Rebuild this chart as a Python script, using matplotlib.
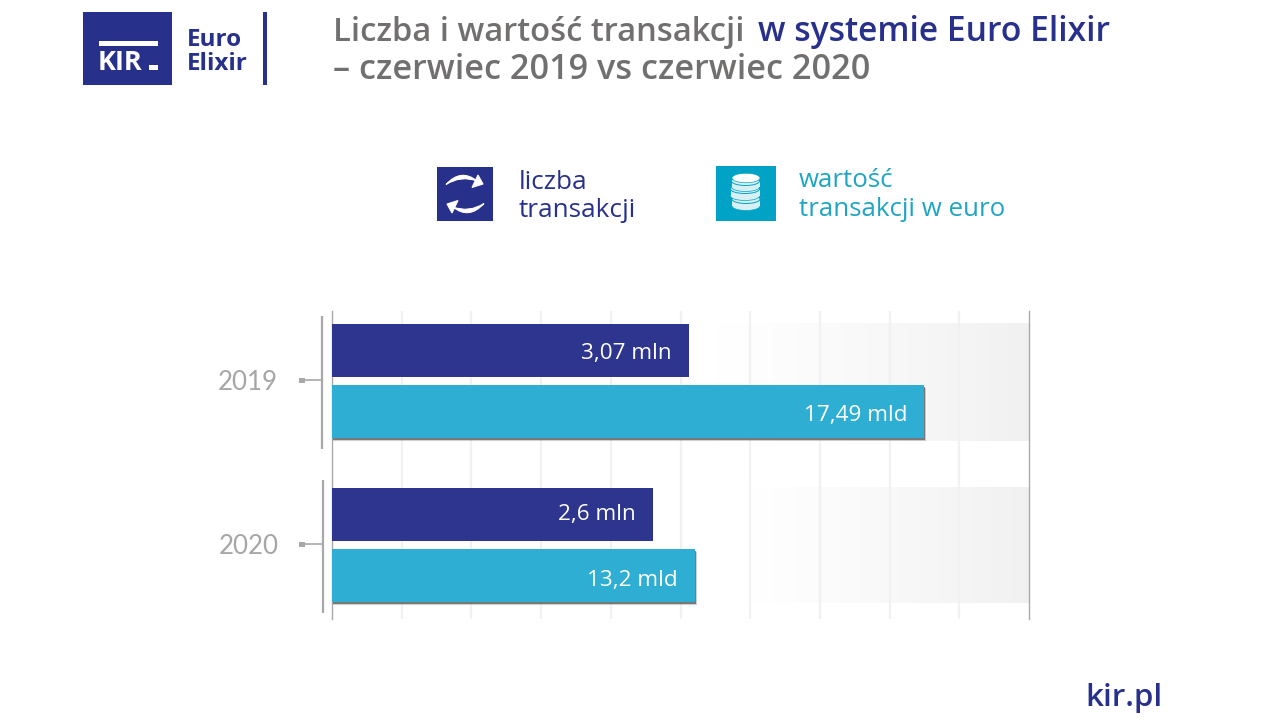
import numpy as np
import matplotlib
matplotlib.use("Agg")
import matplotlib.pyplot as plt
from matplotlib.patches import Rectangle, Ellipse, PathPatch, Polygon
from matplotlib.path import Path
from matplotlib.colors import LinearSegmentedColormap
import matplotlib.patheffects as pe

years = ["2019", "2020"]
count_labels = ["3,07 mln", "2,6 mln"]
value_labels = ["17,49 mld", "13,2 mld"]
# bar lengths as read on the chart's ten-division unlabelled axis
count_lengths = [5.12, 4.61]
value_lengths = [8.50, 5.21]
series_names = ["liczba\ntransakcji", "wartość\ntransakcji w euro"]

NAVY = "#2d358f"
TEAL = "#2eaed2"
LOGO = "#27308a"
ICON_TEAL = "#00a3c6"
GREY = "#a8a8a8"
TITLE_GREY = "#726f6f"
FONT = "Open Sans"

W, H = 1280, 720
fig = plt.figure(figsize=(12.8, 7.2), dpi=100, facecolor="white")

# ---------- chart ----------
L, R, T, B = 332, 1029, 311, 619
ax = fig.add_axes([L / W, 1 - B / H, (R - L) / W, (B - T) / H])
group_px = 164
ylim = ((B - 381) / group_px, (T - 381) / group_px)
ax.set_xticks([])
ax.set_yticks([])
for s in ("top", "bottom"):
    ax.spines[s].set_visible(False)
for s in ("left", "right"):
    ax.spines[s].set_color("#a9a9a9")
    ax.spines[s].set_linewidth(1)
ax.patch.set_alpha(0)

for x in range(1, 10):
    ax.axvline(x, color="#f1f1f1", lw=1.6, zorder=1)

cmap = LinearSegmentedColormap.from_list("g", ["#ffffff", "#f1f1f1"])
grad = (np.linspace(0, 1, 256) ** 1.15).reshape(1, -1)
pos = np.arange(len(years), dtype=float)
off = 30.5 / group_px
bar_h = 53 / group_px
for i, (start, top, bot) in enumerate([(5.5, -0.353, 0.366), (5.9, -0.353, 0.354)]):
    ax.imshow(grad, extent=(start, 10, pos[i] + bot, pos[i] + top), cmap=cmap,
              aspect="auto", zorder=0.5, vmin=0, vmax=1)
ax.set_xlim(0, 10)
ax.set_ylim(*ylim)

ax.barh(pos - off, count_lengths, height=bar_h, color=NAVY, zorder=3)
teal = ax.barh(pos + off, value_lengths, height=bar_h, color=TEAL, zorder=3)
for b in teal:
    b.set_path_effects([
        pe.SimplePatchShadow(offset=(1.0, -2.3), shadow_rgbFace="#777777", alpha=0.35),
        pe.SimplePatchShadow(offset=(0.5, -1.4), shadow_rgbFace="#555555", alpha=0.7),
        pe.Normal()])

count_dy = [-6.3, -4.0]
value_dy = [-6.6, -7.6]
for i in range(len(years)):
    ax.annotate(count_labels[i], (count_lengths[i], pos[i] - off), xytext=(-12.5, count_dy[i]),
                textcoords="offset points", ha="right", va="baseline", color="white",
                fontsize=16.2, family=FONT, zorder=4)
    ax.annotate(value_labels[i], (value_lengths[i], pos[i] + off), xytext=(-12.5, value_dy[i]),
                textcoords="offset points", ha="right", va="baseline", color="white",
                fontsize=16.2, family=FONT, zorder=4)

# ---------- decorations in pixel coordinates ----------
ov = fig.add_axes([0, 0, 1, 1], zorder=5)
ov.set_xlim(0, W)
ov.set_ylim(H, 0)
ov.axis("off")
ov.patch.set_alpha(0)

# brackets and year labels
for label, x, y0, y1, yc in [(years[0], 322, 316, 449, 380), (years[1], 323, 480, 613, 544)]:
    ov.plot([x, x], [y0, y1], color=GREY, lw=1.6, solid_capstyle="butt")
    ov.plot([302, x], [yc, yc], color=GREY, lw=1.2)
    ov.add_patch(Rectangle((299, yc - 2.5), 5.5, 5.5, color=GREY, lw=0))
    ov.text(x - 74.5, yc + 2, label, color="#a6a6a6", fontsize=18.6, family="Lato",
            ha="center", va="center")

# logo
ov.add_patch(Rectangle((83, 11.5), 89, 73.5, color=LOGO, lw=0))
ov.add_patch(Rectangle((98.5, 41), 59, 4.5, color="white", lw=0))
ov.add_patch(Rectangle((148.5, 65), 9, 4.5, color="white", lw=0))
ov.text(98, 70, "KIR", color="white", fontsize=19.5, weight="bold", family=FONT,
        ha="left", va="baseline")
ov.text(187, 45.5, "Euro", color=LOGO, fontsize=17.5, weight="bold", family=FONT,
        ha="left", va="baseline")
ov.text(187, 69.5, "Elixir", color=LOGO, fontsize=17.5, weight="bold", family=FONT,
        ha="left", va="baseline")
ov.add_patch(Rectangle((262.5, 11.5), 4, 73.5, color=LOGO, lw=0))

# title
ov.text(333, 41, "Liczba i wartość transakcji", color=TITLE_GREY, fontsize=23.6,
        weight="semibold", family=FONT, ha="left", va="baseline")
ov.text(758, 41, "w systemie Euro Elixir", color=LOGO, fontsize=24.2,
        weight="semibold", family=FONT, ha="left", va="baseline")
ov.text(333, 79, "– czerwiec 2019 vs czerwiec 2020", color=TITLE_GREY, fontsize=24.7,
        weight="semibold", family=FONT, ha="left", va="baseline")

# legend icon: arrows (second arrow is the first one turned half a circle)
ov.add_patch(Rectangle((437, 167), 56, 54, color=LOGO, lw=0))
cx, cy = 465, 194
crescent = np.array([(446, 184.5), (461, 168), (477, 181), (461, 175), (446, 184.5)])
head = np.array([(478, 175), (483, 184), (472, 187.5)])
codes = [Path.MOVETO, Path.CURVE3, Path.CURVE3, Path.CURVE3, Path.CURVE3]
for sign in (1, -1):
    flip = lambda p: np.column_stack([cx + sign * (p[:, 0] - cx), cy + sign * (p[:, 1] - cy)])
    ov.add_patch(PathPatch(Path(flip(crescent), codes), fc="white", ec="white", lw=0.8))
    ov.add_patch(Polygon(flip(head), closed=True, fc="white", ec="white", lw=0.8))
ov.text(519, 189, series_names[0].split("\n")[0], color=LOGO, fontsize=18.8, family=FONT,
        ha="left", va="baseline")
ov.text(519, 217, series_names[0].split("\n")[1], color=LOGO, fontsize=18.8, family=FONT,
        ha="left", va="baseline")

# legend icon: coins
ov.add_patch(Rectangle((716, 166), 60, 55, color=ICON_TEAL, lw=0))
SIDE = "#d6f0f5"
for y_top, y_bot, xc, w in [(199, 206, 746, 28), (189, 196, 745, 29), (181, 187, 745.5, 28)]:
    ov.add_patch(Ellipse((xc, y_bot), w, 9, fc=SIDE, ec=ICON_TEAL, lw=0.5))
    ov.add_patch(Rectangle((xc - w / 2, y_top), w, y_bot - y_top, fc=SIDE, lw=0))
    ov.add_patch(Ellipse((xc, y_top), w, 9, fc=SIDE, ec=ICON_TEAL, lw=0.7))
ov.add_patch(Ellipse((746, 178), 28, 9.5, fc="white", ec=ICON_TEAL, lw=0.5))
ov.text(799, 187, series_names[1].split("\n")[0], color="#1fa5c3", fontsize=18.6, family=FONT,
        ha="left", va="baseline")
ov.text(799, 216, series_names[1].split("\n")[1], color="#1fa5c3", fontsize=18.6, family=FONT,
        ha="left", va="baseline")

# footer
ov.text(1163, 706, "kir.pl", color=LOGO, fontsize=22.5, weight="semibold", family=FONT,
        ha="right", va="baseline")

fig.savefig("out.png", dpi=100, facecolor="white")
